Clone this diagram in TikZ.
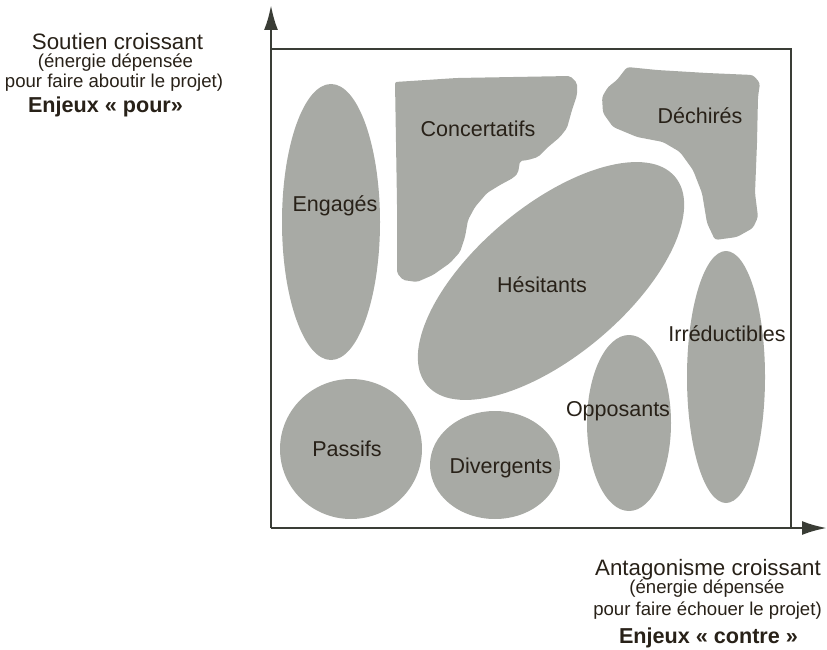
\documentclass[tikz,border=0pt]{standalone}
\usepackage{fontspec}
\setmainfont{Liberation Sans}
\usetikzlibrary{arrows.meta}

\definecolor{zonegray}{RGB}{168,170,165}
\definecolor{inkdark}{RGB}{40,33,24}
\definecolor{linedark}{RGB}{58,61,54}

\tikzset{
  zone/.style={fill=zonegray},
  zonelabel/.style={anchor=base, inner sep=0pt, text=inkdark,
    font=\fontsize{21.5}{25}\selectfont},
  headline/.style={anchor=base, inner sep=0pt, text=inkdark,
    font=\fontsize{22.3}{26}\selectfont},
  subline/.style={anchor=base, inner sep=0pt, text=inkdark,
    font=\fontsize{18.6}{22}\selectfont},
  keyline/.style={anchor=base, inner sep=0pt, text=inkdark,
    font=\fontsize{21.6}{25}\selectfont\bfseries},
  axis/.style={draw=linedark, line width=2.6pt,
    -{Latex[length=25pt,width=14pt]}},
  frame/.style={draw=linedark, line width=2.2pt},
}

\begin{document}
\begin{tikzpicture}[x=1pt, y=-1pt]
\useasboundingbox (0,0) rectangle (827,650);

% --- grey zones --------------------------------------------------------
% Engages
\fill[zone] (331,222) ellipse [x radius=49, y radius=138];
% Concertatifs (torn sheet)
\fill[zone, rounded corners=2pt]
  (395,82) -- (457,78) -- (570,76) -- (577,83) -- (577,95) -- (572,110)
  -- (567,128) -- (560,137) -- (547,148) -- (538,157) -- (528,160)
  -- (520,161) -- (518,173) -- (513,178) -- (500,185) -- (487,193)
  -- (475,207) -- (468,220) -- (465,237) -- (460,252) -- (450,263)
  -- (433,275) -- (417,282) -- (403,280) -- (397,273) -- (397,203) -- cycle;
% Dechires (torn sheet)
\fill[zone, rounded corners=3pt]
  (627,67) -- (657,70) -- (707,73) -- (753,75) -- (760,83) -- (758,97)
  -- (757,143) -- (755,193) -- (758,217) -- (753,228) -- (737,237)
  -- (715,240) -- (707,223) -- (702,193) -- (693,170) -- (680,152)
  -- (663,142) -- (637,137) -- (613,127) -- (603,113) -- (602,97)
  -- (608,87) -- (617,80) -- cycle;
% Hesitants (tilted up to the right)
\fill[zone, rotate around={40:(551,281)}]
  (551,281) ellipse [x radius=162, y radius=75];
% Passifs
\fill[zone] (351,449) ellipse [x radius=71, y radius=70];
% Divergents
\fill[zone] (495,465) ellipse [x radius=65, y radius=54];
% Opposants
\fill[zone] (629,423) ellipse [x radius=42, y radius=88];
% Irreductibles
\fill[zone] (726,377) ellipse [x radius=39, y radius=126];

% --- frame and axes ----------------------------------------------------
\coordinate (O) at (271,528);
\coordinate (ytip) at (271,5);
\coordinate (xtip) at (827,528);
\coordinate (ftl) at (271,49);
\coordinate (ftr) at (791,49);
\coordinate (fbr) at (791,528);
\draw[frame] (ftl) -- (ftr) -- (fbr);
\draw[axis] (O) -- (ytip);
\draw[axis] (O) -- (xtip);

% --- zone labels -------------------------------------------------------
\node[zonelabel] (engages)  at (335,211) {Engagés};
\node[zonelabel] (concert)  at (478,136) {Concertatifs};
\node[zonelabel] (dechires) at (700,124) {Déchirés};
\node[zonelabel] (hesit)    at (542,292) {Hésitants};
\node[zonelabel] (irred)    at (727,341) {Irréductibles};
\node[zonelabel] (oppos)    at (618,416) {Opposants};
\node[zonelabel] (passifs)  at (347,456) {Passifs};
\node[zonelabel] (diverg)   at (501,473) {Divergents};

% --- axis captions -----------------------------------------------------
\node[headline] (ycap1) at (117.5,50) {Soutien croissant};
\node[subline]  (ycap2) at (115.5,68) {(énergie dépensée};
\node[subline]  (ycap3) at (114,88)   {pour faire aboutir le projet)};
\node[keyline]  (ycap4) at (105.5,113) {Enjeux « pour»};

\node[headline] (xcap1) at (708,575) {Antagonisme croissant};
\node[subline]  (xcap2) at (707,593) {(énergie dépensée};
\node[subline]  (xcap3) at (707.5,615) {pour faire échouer le projet)};
\node[keyline]  (xcap4) at (708.5,643) {Enjeux « contre »};
\end{tikzpicture}
\end{document}
